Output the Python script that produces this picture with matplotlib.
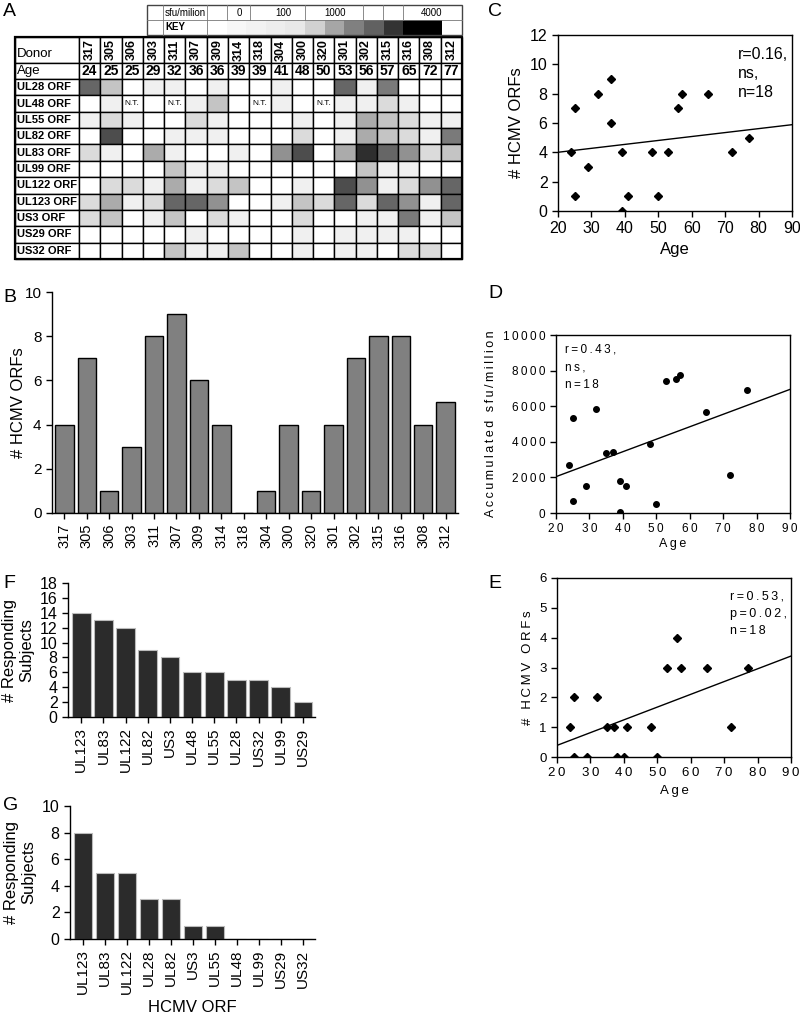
import matplotlib.pyplot as plt
import numpy as np
from matplotlib.patches import Rectangle
from matplotlib.ticker import FuncFormatter

plt.rcParams['font.family'] = ['Liberation Sans', 'DejaVu Sans']

W, H = 800, 1013

# ---- data ----
donors = ['317', '305', '306', '303', '311', '307', '309', '314', '318',
          '304', '300', '320', '301', '302', '315', '316', '308', '312']
ages = [24, 25, 25, 29, 32, 36, 36, 39, 39, 41, 48, 50, 53, 56, 57, 65, 72, 77]
orfs = ['UL28 ORF', 'UL48 ORF', 'UL55 ORF', 'UL82 ORF', 'UL83 ORF', 'UL99 ORF',
        'UL122 ORF', 'UL123 ORF', 'US3 ORF', 'US29 ORF', 'US32 ORF']
# shade level per cell, 0 = white ... 9 = darkest, -1 = not tested
levels = [
    [7, 3, 0, 1, 1, 0, 1, 0, 0, 1, 0, 0, 7, 1, 6, 0, 0, 0],
    [0, 1, -1, 0, -1, 1, 3, 0, -1, 1, 0, -1, 1, 1, 2, 1, 0, 0],
    [1, 2, 1, 0, 0, 2, 1, 0, 0, 0, 1, 0, 1, 4, 3, 2, 1, 1],
    [0, 8, 0, 0, 1, 1, 1, 0, 0, 0, 2, 0, 1, 4, 3, 2, 1, 6],
    [2, 1, 0, 4, 1, 0, 0, 1, 0, 5, 8, 0, 4, 9, 7, 5, 2, 3],
    [0, 0, 0, 0, 3, 1, 1, 0, 0, 0, 0, 0, 0, 3, 1, 1, 0, 0],
    [0, 2, 2, 1, 4, 1, 2, 3, 0, 0, 1, 0, 8, 5, 1, 2, 5, 7],
    [2, 4, 1, 2, 7, 7, 5, 0, 0, 1, 3, 2, 7, 2, 7, 5, 1, 7],
    [2, 3, 0, 1, 3, 0, 2, 1, 0, 0, 2, 0, 0, 1, 1, 6, 1, 3],
    [0, 0, 0, 0, 0, 1, 0, 0, 0, 0, 1, 0, 1, 1, 1, 1, 0, 0],
    [0, 0, 0, 0, 3, 1, 1, 3, 0, 0, 1, 0, 1, 1, 0, 2, 2, 0],
]
level_grays = [1.0, 0.94, 0.86, 0.77, 0.67, 0.57, 0.48, 0.40, 0.30, 0.18]
key_shades = [1.0, 0.97, 0.95, 0.93, 0.91, 0.82, 0.65, 0.5, 0.38, 0.2, 0.0, 0.0, 1.0]
key_labels = [('sfu/milion', 185), ('0', 239), ('100', 283), ('1000', 335), ('4000', 432)]

n_orfs = [4, 7, 1, 3, 8, 9, 6, 4, 0, 1, 4, 1, 4, 7, 8, 8, 4, 5]

ages_d = [24, 25, 25, 29, 32, 35, 37, 39, 39, 41, 48, 50, 53, 56, 57, 65, 72, 77]
sfu_d = [2680, 5310, 660, 1520, 5820, 3360, 3400, 1820, 40, 1500, 3860, 490,
         7390, 7540, 7730, 5700, 2140, 6900]

ages_e = [24, 25, 25, 29, 32, 35, 37, 38, 40, 41, 48, 50, 53, 56, 57, 65, 72, 77]
orfs_e = [1, 2, 0, 0, 2, 1, 1, 0, 0, 1, 1, 0, 3, 4, 3, 3, 1, 3]

f_orfs = ['UL123', 'UL83', 'UL122', 'UL82', 'US3', 'UL48', 'UL55', 'UL28', 'US32', 'UL99', 'US29']
f_counts = [14, 13, 12, 9, 8, 6, 6, 5, 5, 4, 2]

g_orfs = ['UL123', 'UL83', 'UL122', 'UL28', 'UL82', 'US3', 'UL55', 'UL48', 'UL99', 'US29', 'US32']
g_counts = [8, 5, 5, 3, 3, 1, 1, 0, 0, 0, 0]

fig = plt.figure(figsize=(W / 100, H / 100), dpi=100)


def add_ax(l, t, r, b):
    return fig.add_axes([l / W, 1 - b / H, (r - l) / W, (b - t) / H])


def style(ax, size=10, box=False):
    ax.tick_params(direction='out', length=4, width=1, labelsize=size,
                   top=False, right=False)
    for s in ax.spines.values():
        s.set_linewidth(1)
    if not box:
        ax.spines['top'].set_visible(False)
        ax.spines['right'].set_visible(False)


def spaced(s):
    # the D and E panels use letter-spaced text
    return '\u2009'.join(s)


spaced_fmt = FuncFormatter(lambda v, p: spaced('%d' % v))


def panel(label, x, y):
    fig.text(x / W, 1 - y / H, label, fontsize=14, va='center', ha='left')


# ---- A: heat map table ----
axA = add_ax(0, 0, 470, 265)
axA.set_xlim(0, 470)
axA.set_ylim(265, 0)
axA.axis('off')

x0, xlab, xr = 15, 79, 462
yt, yd, ya, yb = 37, 63, 79, 259
cw = (xr - xlab) / len(donors)
rh = (yb - ya) / len(orfs)

axA.add_patch(Rectangle((x0, yt), xlab - x0, yd - yt, fc='white', ec='black', lw=1))
axA.add_patch(Rectangle((x0, yd), xlab - x0, ya - yd, fc='white', ec='black', lw=1))
axA.text(x0 + 2, (yt + yd) / 2 + 4, 'Donor', fontsize=9.5, va='center')
axA.text(x0 + 2, (yd + ya) / 2, 'Age', fontsize=9.5, va='center')
for j, (d, a) in enumerate(zip(donors, ages)):
    cx = xlab + j * cw
    axA.add_patch(Rectangle((cx, yt), cw, yd - yt, fc='white', ec='black', lw=1))
    axA.add_patch(Rectangle((cx, yd), cw, ya - yd, fc='white', ec='black', lw=1))
    axA.text(cx + cw / 2, (yt + yd) / 2, d, rotation=90, fontsize=9,
             fontweight='bold', ha='center', va='center')
    axA.text(cx + cw / 2, (yd + ya) / 2, str(a), fontsize=10,
             fontweight='bold', ha='center', va='center')

for i, orf in enumerate(orfs):
    ry = ya + i * rh
    axA.add_patch(Rectangle((x0, ry), xlab - x0, rh, fc='white', ec='black', lw=1))
    axA.text(x0 + 2, ry + rh / 2, orf, fontsize=8, fontweight='bold', va='center')
    for j in range(len(donors)):
        lv = levels[i][j]
        g = 1.0 if lv < 0 else level_grays[lv]
        cx = xlab + j * cw
        axA.add_patch(Rectangle((cx, ry), cw, rh, fc=str(g), ec='black', lw=1))
        if lv < 0:
            axA.text(cx + cw / 2, ry + rh / 2, 'N.T.', fontsize=6,
                     ha='center', va='center')
axA.add_patch(Rectangle((x0, yt), xr - x0, yb - yt, fc='none', ec='black', lw=1.6))

# key
kx0, kx1, ky0, km, ky1 = 147, 462, 5, 20, 35
kg0 = 207
kw = (kx1 - kg0) / len(key_shades)
for k, s in enumerate(key_shades):
    axA.add_patch(Rectangle((kg0 + k * kw, km), kw, ky1 - km, fc=str(s), ec='none'))
axA.add_patch(Rectangle((kx0, ky0), kx1 - kx0, ky1 - ky0, fc='none', ec='#444444', lw=1))
axA.plot([kx0, kx1], [km, km], color='#777777', lw=0.6)
for vx in [163, 207]:
    axA.plot([vx, vx], [ky0, ky1], color='#777777', lw=0.6)
for vx in [227, 250, 305, 363, 383, 403]:
    axA.plot([vx, vx], [ky0, km], color='#777777', lw=0.6)
for txt, tx in key_labels:
    axA.text(tx, (ky0 + km) / 2, txt, fontsize=7, ha='center', va='center')
axA.text(175, (km + ky1) / 2, 'KEY', fontsize=7, fontweight='bold', ha='center', va='center')

# ---- B ----
axB = add_ax(52, 292, 458, 513)
xb = np.arange(len(donors))
axB.bar(xb, n_orfs, width=0.82, color='#808080', edgecolor='black', lw=1)
axB.set_xlim(-0.55, len(donors) - 0.45)
axB.set_ylim(0, 10)
axB.set_yticks(range(0, 11, 2))
axB.set_xticks(xb, donors, rotation=90)
axB.set_ylabel('# HCMV ORFs', fontsize=12)
axB.yaxis.set_label_coords(-0.065, 0.5)
style(axB, 11)
axB.tick_params(axis='x', labelsize=10.5)

# ---- C ----
axC = add_ax(558, 35, 792, 211)
axC.plot(ages, n_orfs, 'D', ms=4, color='black')
fit = np.polyfit(ages, n_orfs, 1)
xs = np.array([20, 90])
axC.plot(xs, np.polyval(fit, xs), color='black', lw=1)
axC.set_xlim(20, 90)
axC.set_ylim(0, 12)
axC.set_yticks(range(0, 13, 2))
axC.set_xticks(range(20, 91, 10))
axC.set_xlabel('Age', fontsize=12)
axC.set_ylabel('# HCMV ORFs', fontsize=12)
axC.text(0.77, 0.93, 'r=0.16,\nns,\nn=18', transform=axC.transAxes,
         fontsize=11.5, va='top', linespacing=1.3)
style(axC, 11.5, box=True)

# ---- D ----
axD = add_ax(556, 335, 790, 513)
axD.plot(ages_d, sfu_d, 'o', ms=4, color='black')
fit = np.polyfit(ages_d, sfu_d, 1)
axD.plot(xs, np.polyval(fit, xs), color='black', lw=1)
axD.set_xlim(20, 90)
axD.set_ylim(0, 10000)
axD.set_yticks(range(0, 10001, 2000))
axD.set_xticks(range(20, 91, 10))
axD.xaxis.set_major_formatter(spaced_fmt)
axD.yaxis.set_major_formatter(spaced_fmt)
axD.set_xlabel(spaced('Age'), fontsize=9, labelpad=2)
axD.set_ylabel(spaced('Accumulated sfu/million'), fontsize=9)
axD.text(0.04, 0.95, spaced('r=0.43,') + '\n' + spaced('ns,') + '\n' + spaced('n=18'),
         transform=axD.transAxes, fontsize=8.5, va='top', linespacing=1.6)
style(axD, 8.5, box=True)

# ---- E ----
axE = add_ax(557, 578, 791, 757)
axE.plot(ages_e, orfs_e, 'D', ms=4, color='black')
fit = np.polyfit(ages_e, orfs_e, 1)
axE.plot(xs, np.polyval(fit, xs), color='black', lw=1)
axE.set_xlim(20, 90)
axE.set_ylim(0, 6)
axE.set_yticks(range(0, 7))
axE.set_xticks(range(20, 91, 10))
axE.xaxis.set_major_formatter(spaced_fmt)
axE.yaxis.set_major_formatter(spaced_fmt)
axE.set_xlabel(spaced('Age'), fontsize=9.5)
axE.set_ylabel(spaced('# HCMV ORFs'), fontsize=9.5)
axE.text(0.74, 0.93, spaced('r=0.53,') + '\n' + spaced('p=0.02,') + '\n' + spaced('n=18'),
         transform=axE.transAxes, fontsize=9, va='top', linespacing=1.6)
style(axE, 9.5, box=True)

# ---- F ----
axF = add_ax(68, 583, 315, 717)
xf = np.arange(len(f_orfs))
axF.bar(xf, f_counts, width=0.84, color='#2b2b2b', edgecolor='#bbbbbb', lw=0.8)
axF.set_xlim(-0.6, len(f_orfs) - 0.45)
axF.set_ylim(0, 18)
axF.set_yticks(range(0, 19, 2))
axF.set_xticks(xf, f_orfs, rotation=90)
axF.set_ylabel('# Responding\nSubjects', fontsize=12, labelpad=4)
style(axF, 11.5)
axF.tick_params(axis='x', labelsize=11)

# ---- G ----
axG = add_ax(70, 806, 315, 939)
xg = np.arange(len(g_orfs))
axG.bar(xg, g_counts, width=0.84, color='#2b2b2b', edgecolor='#bbbbbb', lw=0.8)
axG.set_xlim(-0.6, len(g_orfs) - 0.45)
axG.set_ylim(0, 10)
axG.set_yticks(range(0, 11, 2))
axG.set_xticks(xg, g_orfs, rotation=90)
axG.set_ylabel('# Responding\nSubjects', fontsize=12, labelpad=4)
axG.set_xlabel('HCMV ORF', fontsize=12)
style(axG, 11.5)
axG.tick_params(axis='x', labelsize=11)

panel('A', 3, 12)
panel('B', 3, 298)
panel('C', 488, 12)
panel('D', 488, 293)
panel('E', 488, 583)
panel('F', 3, 583)
panel('G', 3, 805)

fig.savefig('out.png', dpi=100)
